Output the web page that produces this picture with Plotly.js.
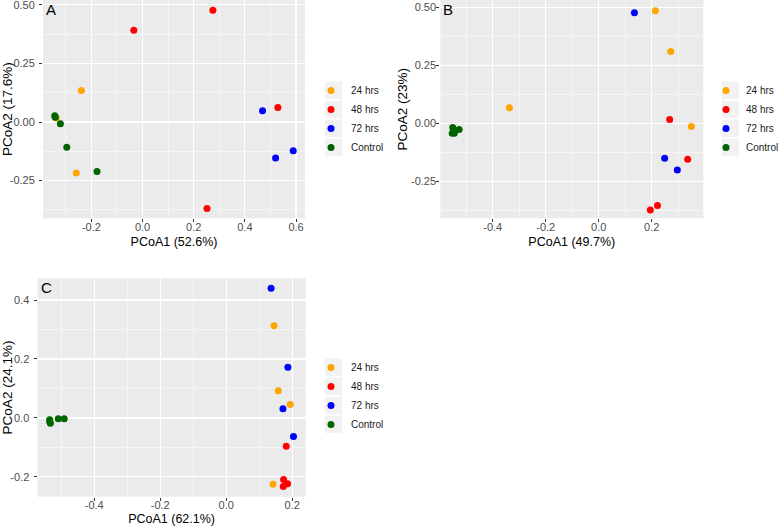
<!DOCTYPE html>
<html>
<head>
<meta charset="utf-8">
<script src="https://cdn.plot.ly/plotly-3.0.1.min.js"></script>
<style>html,body{margin:0;padding:0;background:#fff;}#chart{width:778px;height:526px;}</style>
</head>
<body>
<div id="chart"></div>
<script>
// ---- data ----
var groups = ["24 hrs", "48 hrs", "72 hrs", "Control"];
var groupColors = ["#FFA500", "#FF0000", "#0000FF", "#006400"];

// Panel A
var a24x = [-0.239, -0.337, -0.259];
var a24y = [0.135, 0.017, -0.218];
var a48x = [0.275, -0.034, 0.529, 0.252];
var a48y = [0.477, 0.392, 0.062, -0.369];
var a72x = [0.469, 0.520, 0.589];
var a72y = [0.048, -0.154, -0.123];
var aCx = [-0.343, -0.341, -0.321, -0.296, -0.178];
var aCy = [0.027, 0.020, -0.007, -0.108, -0.211];

// Panel B
var b24x = [0.214, 0.272, -0.337, 0.350];
var b24y = [0.485, 0.310, 0.068, -0.013];
var b48x = [0.268, 0.336, 0.222, 0.195];
var b48y = [0.017, -0.154, -0.353, -0.372];
var b72x = [0.135, 0.249, 0.297];
var b72y = [0.476, -0.150, -0.200];
var bCx = [-0.551, -0.527, -0.553, -0.545];
var bCy = [-0.017, -0.026, -0.042, -0.042];

// Panel C
var c24x = [0.145, 0.158, 0.194, 0.142];
var c24y = [0.313, 0.092, 0.046, -0.225];
var c48x = [0.182, 0.174, 0.186, 0.173];
var c48y = [-0.096, -0.209, -0.223, -0.232];
var c72x = [0.136, 0.187, 0.172, 0.204];
var c72y = [0.440, 0.172, 0.031, -0.063];
var cCx = [-0.535, -0.533, -0.535, -0.509, -0.491];
var cCy = [-0.006, -0.018, -0.012, -0.003, -0.003];

// tick values and labels
var aXTicks = [-0.2, 0.0, 0.2, 0.4, 0.6];
var aXLabels = ["-0.2", "0.0", "0.2", "0.4", "0.6"];
var aYTicks = [-0.25, 0.0, 0.25, 0.5];
var aYLabels = ["-0.25", "0.00", "0.25", "0.50"];
var bXTicks = [-0.4, -0.2, 0.0, 0.2];
var bXLabels = ["-0.4", "-0.2", "0.0", "0.2"];
var bYTicks = [-0.25, 0.0, 0.25, 0.5];
var bYLabels = ["-0.25", "0.00", "0.25", "0.50"];
var cXTicks = [-0.4, -0.2, 0.0, 0.2];
var cXLabels = ["-0.4", "-0.2", "0.0", "0.2"];
var cYTicks = [-0.2, 0.0, 0.2, 0.4];
var cYLabels = ["-0.2", "0.0", "0.2", "0.4"];

var panelLetters = ["A", "B", "C"];
var xTitles = ["PCoA1 (52.6%)", "PCoA1 (49.7%)", "PCoA1 (62.1%)"];
var yTitles = ["PCoA2 (17.6%)", "PCoA2 (23%)", "PCoA2 (24.1%)"];

var panels = [
  {xs: [a24x, a48x, a72x, aCx], ys: [a24y, a48y, a72y, aCy]},
  {xs: [b24x, b48x, b72x, bCx], ys: [b24y, b48y, b72y, bCy]},
  {xs: [c24x, c48x, c72x, cCx], ys: [c24y, c48y, c72y, cCy]}
];

// ---- traces ----
var traces = [];
var axSuffix = ["", "2", "3"];
var legNames = ["legend", "legend2", "legend3"];
panels.forEach(function (p, pi) {
  groups.forEach(function (g, gi) {
    traces.push({
      type: "scatter", mode: "markers",
      x: p.xs[gi], y: p.ys[gi], name: g,
      xaxis: "x" + axSuffix[pi], yaxis: "y" + axSuffix[pi],
      legend: legNames[pi],
      marker: {color: groupColors[gi], size: 7},
      hoverinfo: "x+y+name"
    });
  });
});

// ---- layout ----
var W = 778, H = 526;
function px(v) { return v / W; }
function py(v) { return 1 - v / H; }

var font = "Liberation Sans, Arial, sans-serif";
function axisBase(isX, range, tv, tt, minorDtick, domain, titleText, anchor, labelOff, titleOff) {
  return {
    domain: domain, range: range, anchor: anchor,
    tickmode: "array", tickvals: tv, ticktext: tt,
    showgrid: true, gridcolor: "#ffffff", gridwidth: 1.1,
    minor: {tickmode: "linear", dtick: minorDtick, tick0: 0, showgrid: true, gridcolor: "#ffffff", gridwidth: 0.5, ticks: ""},
    zeroline: false, showline: false,
    ticks: "outside", ticklen: 3, tickwidth: 1, tickcolor: "#333333",
    ticklabeloverflow: "allow",
    ticklabelstandoff: labelOff,
    tickfont: {family: font, size: 11, color: "#4d4d4d"},
    title: {text: titleText, font: {family: font, size: isX ? 12.5 : 13.5, color: "#000"}, standoff: titleOff},
    automargin: false, fixedrange: true
  };
}

var layout = {
  width: W, height: H,
  margin: {l: 0, r: 0, t: 0, b: 0, autoexpand: false},
  paper_bgcolor: "#ffffff",
  plot_bgcolor: "#EBEBEB",
  showlegend: true,
  xaxis: axisBase(true, [-0.389, 0.635], aXTicks, aXLabels, 0.1, [px(43), px(305)], xTitles[0], "y", -5, 5),
  yaxis: axisBase(false, [-0.411, 0.521], aYTicks, aYLabels, 0.125, [py(218.3), py(0)], yTitles[0], "x", 2, 3),
  xaxis2: axisBase(true, [-0.598, 0.395], bXTicks, bXLabels, 0.1, [px(440.3), px(703.3)], xTitles[1], "y2", -5, 5),
  yaxis2: axisBase(false, [-0.408, 0.531], bYTicks, bYLabels, 0.125, [py(218.3), py(0)], yTitles[1], "x2", -2, 0),
  xaxis3: axisBase(true, [-0.572, 0.241], cXTicks, cXLabels, 0.1, [px(37.5), px(305.7)], xTitles[2], "y3", -5, 5),
  yaxis3: axisBase(false, [-0.267, 0.4736], cYTicks, cYLabels, 0.1, [py(496.7), py(278.3)], yTitles[2], "x3", 2, 3),
  annotations: [],
  shapes: []
};

// panel letters
panelLetters.forEach(function (L, i) {
  layout.annotations.push({
    text: L, xref: "x" + axSuffix[i] + " domain", yref: "y" + axSuffix[i] + " domain",
    x: 0, y: 1, xanchor: "left", yanchor: "top", xshift: 1, yshift: 1,
    showarrow: false, font: {family: font, size: 15, color: "#000"}
  });
});

// legends (position) and grey key backgrounds
var legPos = [[311, 76], [706, 76], [311, 353]];
var keyLeft = [325, 722, 325];
var keyTop = [81, 81, 358];
legPos.forEach(function (p, i) {
  layout[legNames[i]] = {
    x: px(p[0]), y: py(p[1]), xanchor: "left", yanchor: "top",
    bgcolor: "rgba(0,0,0,0)", borderwidth: 0,
    font: {family: font, size: 10, color: "#1a1a1a"},
    itemwidth: 30, tracegroupgap: 0
  };
  for (var k = 0; k < groups.length; k++) {
    layout.shapes.push({
      type: "rect", xref: "paper", yref: "paper", layer: "below",
      x0: px(keyLeft[i]), x1: px(keyLeft[i] + 17),
      y0: py(keyTop[i] + k * 19 + 0.5), y1: py(keyTop[i] + k * 19 + 18),
      fillcolor: "#F2F2F2", line: {width: 0}
    });
  }
});

Plotly.newPlot("chart", traces, layout, {staticPlot: true});
</script>
</body>
</html>
